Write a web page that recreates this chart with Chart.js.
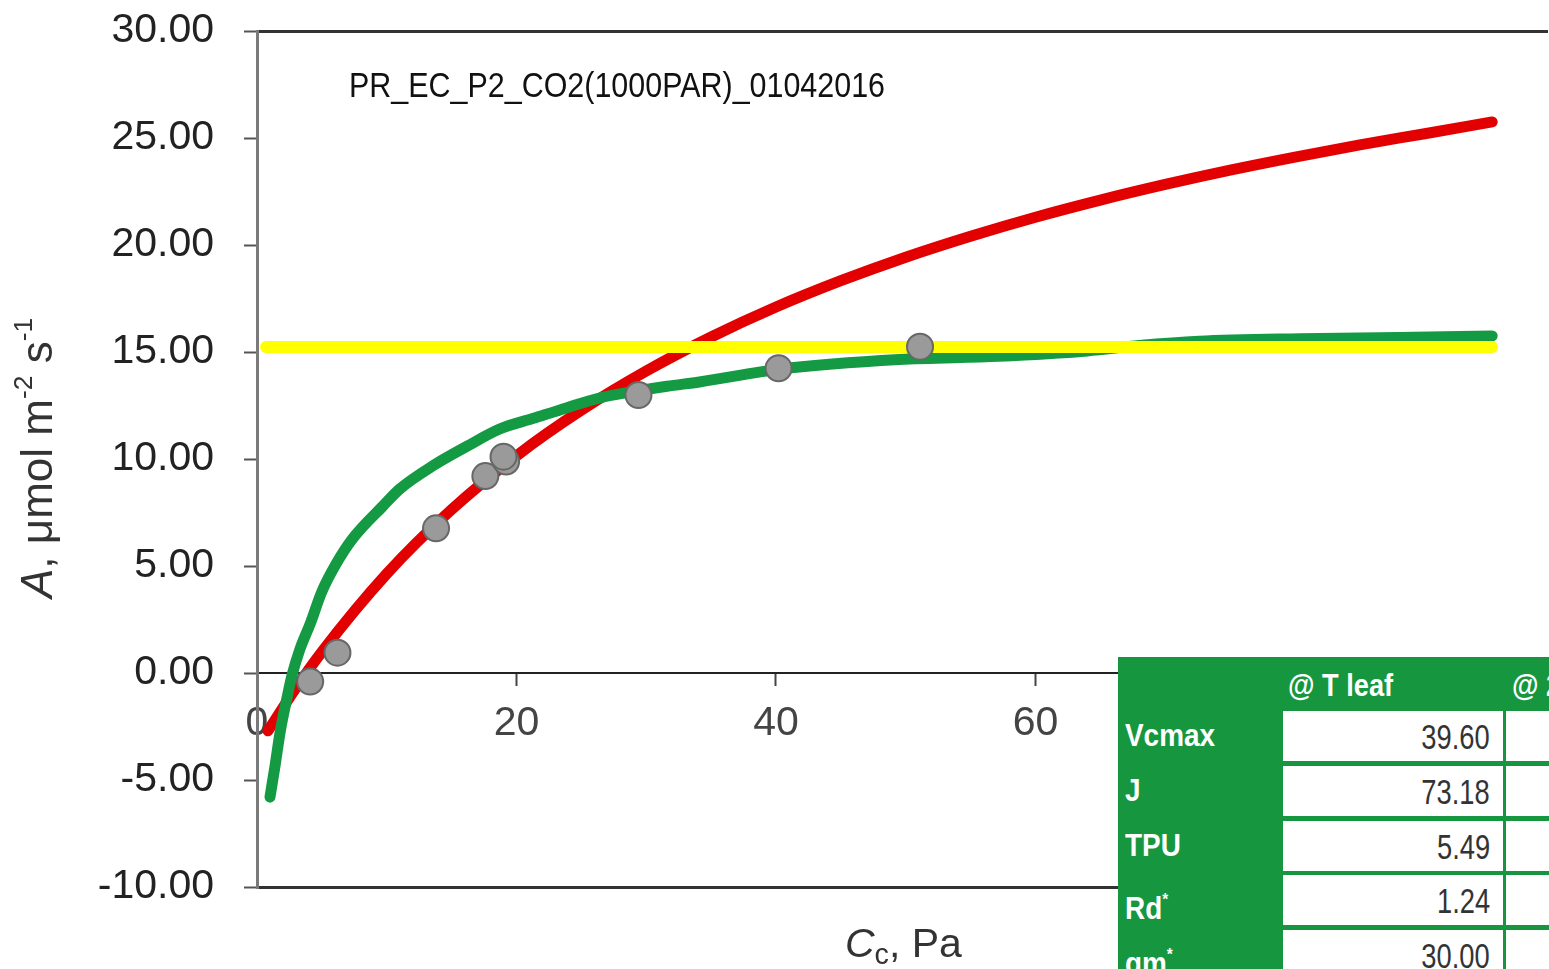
<!DOCTYPE html>
<html>
<head>
<meta charset="utf-8">
<title>PR_EC_P2 A/Cc</title>
<script src="https://cdn.jsdelivr.net/npm/chart.js@4.4.1/dist/chart.umd.min.js"></script>
<style>
  html, body { margin: 0; padding: 0; background: #fff; overflow: hidden; }
  #wrap { position: relative; width: 1549px; height: 969px; overflow: hidden; }
  #chart { position: absolute; left: 0; top: 0; }
  .run-title {
    position: absolute; left: 349px; top: 67px;
    font: 35px/1 "Liberation Sans", Arial, sans-serif; color: #111;
    white-space: nowrap; transform: scaleX(0.87); transform-origin: 0 0;
  }
  .y-title {
    position: absolute; left: 10px; top: 598px;
    font: 44px/1 "Liberation Sans", Arial, sans-serif; color: #333;
    white-space: nowrap; transform: rotate(-90deg); transform-origin: 0 0;
  }
  .x-title {
    position: absolute; left: 845px; top: 923px;
    font: 41px/1 "Liberation Sans", Arial, sans-serif; color: #333; white-space: nowrap;
  }
  .y-title sup { font-size: 0.6em; vertical-align: 0.75em; }
  .x-title sub { font-size: 0.7em; vertical-align: -0.25em; }
  .params {
    position: absolute; left: 1118px; top: 657px; width: 460px; height: 320px;
    background: #16973f; font-family: "Liberation Sans", Arial, sans-serif;
  }
  .params .head, .params .name, .params .cell { position: absolute; }
  .params .head { top: 8px; color: #fff; font-weight: bold; font-size: 32px; line-height: 40px;
    transform: scaleX(0.85); transform-origin: 0 0; white-space: nowrap; }
  .params .name { left: 7px; height: 50px; line-height: 50px; color: #fff; font-weight: bold;
    font-size: 31px; transform: scaleX(0.9); transform-origin: 0 0; white-space: nowrap; }
  .params .name sup { font-size: 0.55em; vertical-align: 0.8em; }
  .params .cell { height: 50px; background: #fff; }
  .params .cell span { position: absolute; right: 13px; top: 0; line-height: 52px; font-size: 35px;
    color: #333; transform: scaleX(0.78); transform-origin: 100% 0; white-space: nowrap; }
</style>
</head>
<body>
<div id="wrap">
  <canvas id="chart" width="1563" height="969"></canvas>
  <div class="run-title">PR_EC_P2_CO2(1000PAR)_01042016</div>
  <div class="y-title"><i>A</i>, μmol m<sup>-2</sup> s<sup>-1</sup></div>
  <div class="x-title"><i>C</i><sub>c</sub>, Pa</div>
  <div id="params" class="params"></div>
</div>
<script>
"use strict";

// Rubisco-limited rate (red)
const rubiscoCc = [0.85, 3, 5, 10, 15, 20, 25, 30, 35, 40, 45, 50, 55, 60, 65, 70, 75, 80, 85, 90, 95.2];
const rubiscoA = [-2.70, -0.70, 0.99, 4.64, 7.64, 10.15, 12.28, 14.11, 15.70, 17.10, 18.33, 19.43,
  20.41, 21.30, 22.10, 22.83, 23.50, 24.11, 24.68, 25.20, 25.75];

// RuBP regeneration limited rate (green)
const electronCc = [1.0, 1.4, 1.8, 2.3, 2.7, 3.3, 4.1, 5.0, 6.1, 7.4, 9.7, 11.0, 13.6, 16.2, 18.7,
  21.3, 23.9, 26.4, 29.0, 31.6, 34.1, 40.3, 49.5, 57.2, 64.0, 68.0, 72.6, 80.4, 88.0, 95.2];
const electronA = [-5.8, -4.3, -2.7, -1.2, -0.1, 1.1, 2.3, 3.8, 5.1, 6.3, 7.8, 8.6, 9.7, 10.6, 11.4,
  11.9, 12.4, 12.85, 13.15, 13.4, 13.6, 14.2, 14.65, 14.8, 15.05, 15.3, 15.5, 15.62, 15.68, 15.75];

// TPU limit (yellow)
const tpuCc = [0.7, 95.2];
const tpuA = [15.23, 15.23];

// measured points
const measuredCc = [4.1, 6.2, 13.8, 17.6, 19.2, 19.0, 29.4, 40.2, 51.1];
const measuredA = [-0.4, 0.95, 6.76, 9.2, 9.88, 10.11, 12.99, 14.24, 15.25];

const yMin = -10;
const yMax = 30;
const yStep = 5;
const xMin = 0;
const xMax = 99.5;
const xStep = 20;

// fitted parameters
const paramNames = ["Vcmax", "J", "TPU", "Rd*", "gm*"];
const leafValues = ["39.60", "73.18", "5.49", "1.24", "30.00"];
const paramHeaders = ["@ T leaf", "@ 25°C"];

function pairs(xs, ys) {
  return xs.map((x, i) => ({ x, y: ys[i] }));
}

function curve(label, xs, ys, color, width, order) {
  return {
    label,
    data: pairs(xs, ys),
    showLine: true,
    borderColor: color,
    backgroundColor: color,
    borderWidth: width,
    borderCapStyle: "round",
    borderJoinStyle: "round",
    cubicInterpolationMode: "monotone",
    pointRadius: 0,
    order
  };
}

function renderParams() {
  const box = document.getElementById("params");
  const rowTops = [54, 109, 164, 218, 273];
  let html = `<div class="head" style="left:170px">${paramHeaders[0]}</div>`;
  html += `<div class="head" style="left:394px">${paramHeaders[1]}</div>`;
  paramNames.forEach((name, i) => {
    const top = rowTops[i];
    const label = name.replace("*", "<sup>*</sup>");
    html += `<div class="name" style="top:${top}px">${label}</div>`;
    html += `<div class="cell" style="left:165px;top:${top}px;width:220px"><span>${leafValues[i]}</span></div>`;
    html += `<div class="cell" style="left:388px;top:${top}px;width:120px"></div>`;
  });
  box.innerHTML = html;
}

Chart.defaults.font.family = "'Liberation Sans', Arial, sans-serif";

new Chart(document.getElementById("chart"), {
  type: "scatter",
  data: {
    datasets: [
      {
        label: "Measured",
        data: pairs(measuredCc, measuredA),
        pointRadius: 13,
        pointBackgroundColor: "#9a9a9a",
        pointBorderColor: "#676767",
        pointBorderWidth: 2,
        order: 0
      },
      curve("TPU", tpuCc, tpuA, "#ffff00", 12, 1),
      curve("RuBP regeneration", electronCc, electronA, "#139a43", 11, 2),
      curve("Rubisco", rubiscoCc, rubiscoA, "#e30000", 11, 3)
    ]
  },
  options: {
    responsive: false,
    devicePixelRatio: 1,
    animation: false,
    layout: { padding: { top: 31, bottom: 82, left: 0, right: 0 } },
    plugins: { legend: { display: false }, tooltip: { enabled: false } },
    scales: {
      x: {
        type: "linear",
        position: { y: 0 },
        min: xMin,
        max: xMax,
        afterFit: (scale) => { scale.height = 0; },
        ticks: {
          stepSize: xStep,
          includeBounds: false,
          padding: 14,
          color: "#444",
          font: { size: 41 },
          maxRotation: 0
        },
        grid: {
          drawOnChartArea: false,
          drawTicks: true,
          tickLength: 12,
          tickColor: "#444",
          tickWidth: 2
        },
        border: { display: true, color: "#222", width: 2 }
      },
      y: {
        type: "linear",
        min: yMin,
        max: yMax,
        afterFit: (scale) => {
          // the frame is fixed by the layout padding, not by the tick labels
          scale.width = 257;
          scale.paddingTop = 0;
          scale.paddingBottom = 0;
        },
        ticks: {
          stepSize: yStep,
          padding: 30,
          color: "#222",
          font: { size: 41 },
          callback: (value) => Number(value).toFixed(2)
        },
        grid: {
          drawOnChartArea: true,
          color: (ctx) => (ctx.tick && (ctx.tick.value === yMax || ctx.tick.value === yMin)) ? "#333" : "rgba(0,0,0,0)",
          lineWidth: 3,
          tickLength: 13,
          tickColor: "#555",
          tickWidth: 2
        },
        border: { display: true, color: "#7a7a7a", width: 3 }
      }
    }
  }
});

renderParams();
</script>
</body>
</html>
